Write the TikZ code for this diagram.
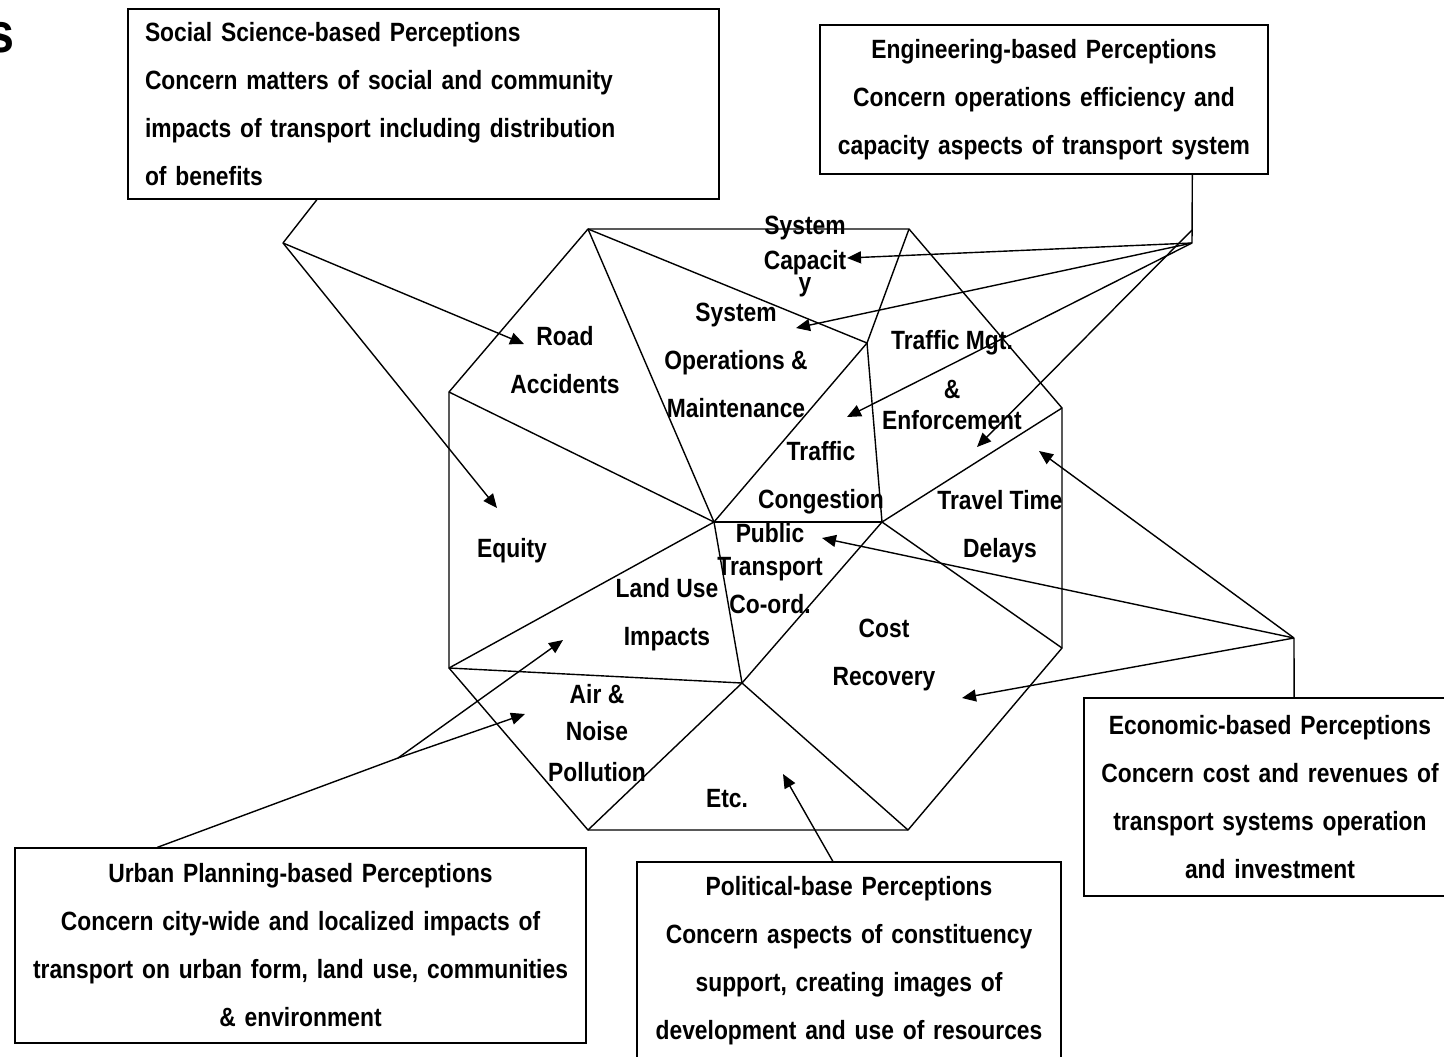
\documentclass[tikz,border=0pt]{standalone}
\usepackage{fontspec}
\setmainfont{Liberation Sans}[FakeStretch=0.865]
\usetikzlibrary{arrows.meta,positioning,calc}

\begin{document}
\begin{tikzpicture}[
    x=0.5pt, y=-0.5pt,
    frame/.style={rectangle, draw=black, line width=0.7pt, inner xsep=0pt, inner ysep=0pt, align=center, font=\bfseries\fontsize{13.2}{24}\selectfont},
    label/.style={align=center, inner sep=0pt, font=\bfseries\fontsize{13.2}{24}\selectfont},
    edge/.style={line width=0.7pt},
    arrow/.style={-{Triangle[length=7pt,width=6pt]}, line width=0.7pt}
]
    \useasboundingbox (0,0) rectangle (1444,1056);

    % cut-off title letter
    \node[anchor=base east, inner sep=0pt, font=\bfseries\fontsize{28}{30}\selectfont] (title) at (15,52) {s};

    % perception boxes
    \node[frame, minimum width=295.5pt, minimum height=95pt, text width=278.5pt, inner xsep=8.5pt, align=left] (social) at (423.5,104)
        {Social Science-based Perceptions\\Concern matters of social and community\\impacts of transport including distribution\\of benefits};
    \node[frame, minimum width=224pt, minimum height=74.5pt, text width=224pt] (eng) at (1044,99.5)
        {Engineering-based Perceptions\\Concern operations efficiency and\\capacity aspects of transport system};
    \node[frame, minimum width=186pt, minimum height=99pt, text width=186pt] (econ) at (1270,797)
        {Economic-based Perceptions\\Concern cost and revenues of\\transport systems operation\\and investment};
    \node[frame, minimum width=212pt, minimum height=98.5pt, text width=212pt] (pol) at (849,960.5)
        {Political-base Perceptions\\Concern aspects of constituency\\support, creating images of\\development and use of resources};
    \node[frame, minimum width=285.5pt, minimum height=97.5pt, text width=285.5pt] (urban) at (300.5,945.5)
        {Urban Planning-based Perceptions\\Concern city-wide and localized impacts of\\transport on urban form, land use, communities\\\& environment};

    % octagon corners and inner points
    \coordinate (a) at (588,229);
    \coordinate (b) at (909,229);
    \coordinate (c) at (1062,408);
    \coordinate (d) at (1062,648);
    \coordinate (e) at (908,830);
    \coordinate (f) at (588,830);
    \coordinate (g) at (449,668);
    \coordinate (h) at (449,392);
    \coordinate (o) at (714,522);
    \coordinate (p) at (867,343);
    \coordinate (q) at (882,522);
    \coordinate (r) at (742,683);

    \draw[edge] (a) -- (b) -- (c) -- (d) -- (e) -- (f) -- (g) -- (h) -- cycle;
    \draw[edge] (a) -- (o);
    \draw[edge] (a) -- (p);
    \draw[edge] (b) -- (p);
    \draw[edge] (p) -- (o);
    \draw[edge] (p) -- (q);
    \draw[edge] (o) -- (q);
    \draw[edge] (h) -- (o);
    \draw[edge] (c) -- (q);
    \draw[edge] (q) -- (d);
    \draw[edge] (q) -- (r);
    \draw[edge] (o) -- (r);
    \draw[edge] (o) -- (g);
    \draw[edge] (g) -- (r);
    \draw[edge] (r) -- (f);
    \draw[edge] (r) -- (e);

    % segment labels
    \node[label] (syscap) at (805,257) {System\\[-6.5pt]Capacit\\[-13pt]y};
    \node[label] (road) at (565,360) {Road\\Accidents};
    \node[label] (sysops) at (736,360) {System\\Operations \&\\Maintenance};
    \node[label] (mgt) at (952,380) {Traffic Mgt.\\[0.5pt]\&\\[-8.5pt]Enforcement};
    \node[label] (congest) at (821,477.5) {Traffic\\Congestion};
    \node[label] (travel) at (1000,527) {Travel Time\\Delays};
    \node[label] (equity) at (512,551) {Equity};
    \node[label] (public) at (770,568.5) {Public\\[-7.5pt]Transport\\[-5pt]Co-ord.};
    \node[label] (landuse) at (667,615) {Land Use\\Impacts};
    \node[label] (cost) at (884,655.5) {Cost\\Recovery};
    \node[label] (air) at (597,733) {Air \&\\[-5.5pt]Noise\\[-3.5pt]Pollution};
    \node[label] (etc) at (727,799) {Etc.};

    % social science links
    \coordinate (socfoot) at ($(social.south west)!0.32!(social.south east)$);
    \coordinate (socjoin) at (283,243);
    \coordinate (roadtip) at (524,344);
    \coordinate (equitytip) at (497,508);
    \draw[edge] (socfoot) -- (socjoin);
    \draw[arrow] (socjoin) -- (roadtip);
    \draw[arrow] (socjoin) -- (equitytip);

    % engineering links
    \coordinate (engfoot) at ($(eng.south west)!0.83!(eng.south east)$);
    \coordinate (engjoin) at (1192,243);
    \coordinate (engjoin2) at (1192,230);
    \coordinate (syscaptip) at (847,258);
    \coordinate (sysopstip) at (796,328);
    \coordinate (congesttip) at (847,417);
    \coordinate (mgttip) at (977,447);
    \draw[edge] (engfoot) -- (engjoin);
    \draw[arrow] (engjoin) -- (syscaptip);
    \draw[arrow] (engjoin) -- (sysopstip);
    \draw[arrow] (engjoin) -- (congesttip);
    \draw[arrow] (engjoin2) -- (mgttip);

    % economic links
    \coordinate (econtop) at ($(econ.north west)!0.5645!(econ.north east)$);
    \coordinate (econjoin) at (1294,638);
    \coordinate (traveltip) at (1039,451);
    \coordinate (publictip) at (822,538);
    \coordinate (costtip) at (962,698);
    \draw[edge] (econtop) -- (econjoin);
    \draw[arrow] (econjoin) -- (traveltip);
    \draw[arrow] (econjoin) -- (publictip);
    \draw[arrow] (econjoin) -- (costtip);

    % urban planning links
    \coordinate (urbtop) at ($(urban.north west)!0.25!(urban.north east)$);
    \coordinate (urbjoin) at (398,758);
    \coordinate (landtip) at (563,640);
    \coordinate (airtip) at (525,714);
    \draw[edge] (urbtop) -- (urbjoin);
    \draw[arrow] (urbjoin) -- (landtip);
    \draw[arrow] (urbjoin) -- (airtip);

    % political link
    \coordinate (poltop) at ($(pol.north west)!0.462!(pol.north east)$);
    \coordinate (etctip) at (783,774);
    \draw[arrow] (poltop) -- (etctip);
\end{tikzpicture}
\end{document}
